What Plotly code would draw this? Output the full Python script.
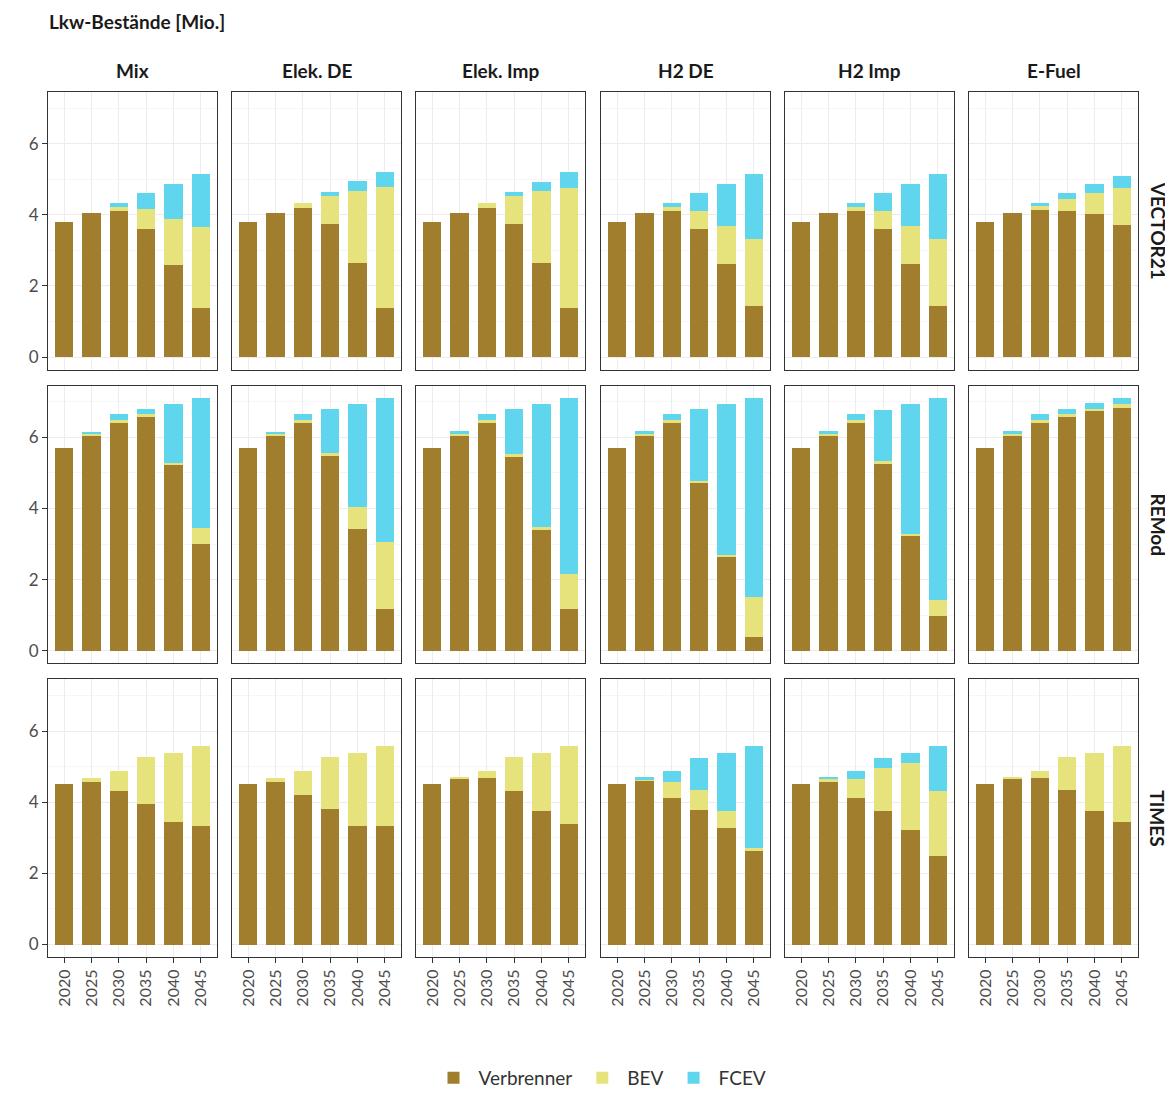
import plotly.graph_objects as go

OFF = 8  # default page body margin
W, H = 1173 - OFF, 1097 - OFF

years = ["2020", "2025", "2030", "2035", "2040", "2045"]
scenarios = ["Mix", "Elek. DE", "Elek. Imp", "H2 DE", "H2 Imp", "E-Fuel"]
models = ["VECTOR21", "REMod", "TIMES"]
series = ["Verbrenner", "BEV", "FCEV"]
colors = {"Verbrenner": "#A07E2D", "BEV": "#E6E27C", "FCEV": "#5FD6EE"}

# values per model: list over scenarios, each list over years (Mio.)
vector21_verbrenner = [
    [3.81, 4.06, 4.10, 3.59, 2.59, 1.39],
    [3.81, 4.06, 4.19, 3.74, 2.64, 1.39],
    [3.81, 4.06, 4.19, 3.74, 2.64, 1.38],
    [3.81, 4.06, 4.10, 3.61, 2.62, 1.43],
    [3.81, 4.06, 4.10, 3.61, 2.62, 1.43],
    [3.81, 4.04, 4.13, 4.11, 4.01, 3.71],
]
vector21_bev = [
    [0, 0, 0.13, 0.56, 1.28, 2.28],
    [0, 0, 0.15, 0.80, 2.03, 3.38],
    [0, 0, 0.15, 0.80, 2.02, 3.38],
    [0, 0, 0.12, 0.49, 1.06, 1.89],
    [0, 0, 0.12, 0.49, 1.06, 1.89],
    [0, 0, 0.14, 0.33, 0.61, 1.05],
]
vector21_fcev = [
    [0, 0, 0.10, 0.47, 1.00, 1.47],
    [0, 0, 0, 0.11, 0.27, 0.42],
    [0, 0, 0, 0.11, 0.27, 0.43],
    [0, 0, 0.10, 0.52, 1.19, 1.82],
    [0, 0, 0.10, 0.51, 1.19, 1.82],
    [0, 0, 0.05, 0.18, 0.24, 0.33],
]
remod_verbrenner = [
    [5.69, 6.06, 6.44, 6.58, 5.21, 2.99],
    [5.69, 6.06, 6.44, 5.49, 3.42, 1.18],
    [5.69, 6.06, 6.44, 5.48, 3.40, 1.18],
    [5.69, 6.06, 6.44, 4.71, 2.65, 0.39],
    [5.69, 6.07, 6.44, 5.26, 3.24, 0.99],
    [5.69, 6.07, 6.44, 6.58, 6.74, 6.82],
]
remod_bev = [
    [0, 0.03, 0.05, 0.07, 0.07, 0.46],
    [0, 0.03, 0.05, 0.06, 0.63, 1.87],
    [0, 0.04, 0.05, 0.05, 0.07, 0.97],
    [0, 0.04, 0.05, 0.07, 0.05, 1.12],
    [0, 0.03, 0.05, 0.07, 0.04, 0.43],
    [0, 0.02, 0.05, 0.08, 0.06, 0.13],
]
remod_fcev = [
    [0, 0.07, 0.16, 0.15, 1.67, 3.66],
    [0, 0.07, 0.16, 1.24, 2.90, 4.06],
    [0, 0.07, 0.16, 1.26, 3.48, 4.96],
    [0, 0.07, 0.16, 2.01, 4.25, 5.60],
    [0, 0.07, 0.16, 1.45, 3.67, 5.69],
    [0, 0.08, 0.16, 0.13, 0.16, 0.16],
]
times_verbrenner = [
    [4.50, 4.56, 4.31, 3.95, 3.44, 3.33],
    [4.50, 4.56, 4.19, 3.80, 3.33, 3.33],
    [4.50, 4.66, 4.68, 4.32, 3.75, 3.38],
    [4.50, 4.60, 4.12, 3.79, 3.28, 2.62],
    [4.50, 4.56, 4.12, 3.75, 3.22, 2.49],
    [4.50, 4.67, 4.67, 4.34, 3.75, 3.44],
]
times_bev = [
    [0, 0.12, 0.57, 1.32, 1.95, 2.25],
    [0, 0.12, 0.69, 1.47, 2.06, 2.25],
    [0, 0.03, 0.20, 0.94, 1.64, 2.19],
    [0, 0.03, 0.44, 0.55, 0.47, 0.08],
    [0, 0.09, 0.52, 1.22, 1.89, 1.82],
    [0, 0.02, 0.21, 0.92, 1.64, 2.14],
]
times_fcev = [
    [0, 0, 0, 0, 0, 0],
    [0, 0, 0, 0, 0, 0],
    [0, 0, 0, 0, 0, 0],
    [0, 0.07, 0.33, 0.91, 1.63, 2.88],
    [0, 0.05, 0.25, 0.28, 0.27, 1.27],
    [0, 0, 0, 0, 0, 0],
]

data = {
    "VECTOR21": {"Verbrenner": vector21_verbrenner, "BEV": vector21_bev, "FCEV": vector21_fcev},
    "REMod": {"Verbrenner": remod_verbrenner, "BEV": remod_bev, "FCEV": remod_fcev},
    "TIMES": {"Verbrenner": times_verbrenner, "BEV": times_bev, "FCEV": times_fcev},
}

FONT = "Lato"
fig = go.Figure()

col_x0 = [48, 232, 416, 601, 785, 969]
pw = 169
row_y0 = [92, 386, 680]
ph = 278


def px(x):
    return (x - OFF) / W


def py(y):
    return 1 - (y - OFF) / H


layout = {}
annotations = []
for r, model in enumerate(models):
    for c, scen in enumerate(scenarios):
        idx = r * 6 + c + 1
        xa = "x" if idx == 1 else f"x{idx}"
        ya = "y" if idx == 1 else f"y{idx}"
        for s in series:
            fig.add_trace(go.Bar(
                x=years, y=data[model][s][c], name=s,
                marker=dict(color=colors[s], line=dict(width=0)),
                width=0.67, xaxis=xa, yaxis=ya,
                legendgroup=s, showlegend=(idx == 1),
            ))
        xkey = "xaxis" if idx == 1 else f"xaxis{idx}"
        ykey = "yaxis" if idx == 1 else f"yaxis{idx}"
        layout[xkey] = dict(
            domain=[px(col_x0[c]), px(col_x0[c] + pw)], anchor=ya, type="category",
            categoryorder="array", categoryarray=years,
            range=[-0.6, 5.6], showgrid=True, gridcolor="#ECEBF0", gridwidth=1,
            showline=True, mirror=True, linecolor="#333333", linewidth=1,
            ticks="outside" if r == 2 else "", ticklen=5, tickcolor="#333333",
            showticklabels=(r == 2), tickangle=-90,
            tickfont=dict(family=FONT, size=16, color="#4D4D4D"),
            zeroline=False,
        )
        layout[ykey] = dict(
            domain=[py(row_y0[r] + ph), py(row_y0[r])], anchor=xa, range=[-0.355, 7.455],
            tickvals=[0, 2, 4, 6], showgrid=True, gridcolor="#ECEBF0", gridwidth=1,
            minor=dict(tickvals=[1, 3, 5, 7], showgrid=True, gridcolor="#F6F5F8", ticks=""),
            showline=True, mirror=True, linecolor="#333333", linewidth=1,
            ticks="outside" if c == 0 else "", ticklen=5, tickcolor="#333333",
            showticklabels=(c == 0),
            tickfont=dict(family=FONT, size=17, color="#4D4D4D"),
            zeroline=False,
        )

for c, scen in enumerate(scenarios):
    annotations.append(dict(
        text=f"<b>{scen}</b>", x=px(col_x0[c] + pw / 2), y=py(71),
        xref="paper", yref="paper", showarrow=False, xanchor="center", yanchor="middle",
        font=dict(family=FONT, size=19, color="#1A1A1A"),
    ))
for r, model in enumerate(models):
    annotations.append(dict(
        text=f"<b>{model}</b>", x=px(1158), y=py(row_y0[r] + ph / 2),
        xref="paper", yref="paper", showarrow=False, xanchor="center", yanchor="middle",
        textangle=90, font=dict(family=FONT, size=19, color="#1A1A1A"),
    ))
annotations.append(dict(
    text="<b>Lkw-Bestände [Mio.]</b>", x=px(47), y=py(22),
    xref="paper", yref="paper", showarrow=False, xanchor="left", yanchor="middle",
    font=dict(family=FONT, size=19, color="#1A1A1A"),
))

fig.update_layout(
    width=W, height=H, autosize=False,
    margin=dict(l=0, r=0, t=0, b=0),
    paper_bgcolor="white", plot_bgcolor="white",
    barmode="stack", bargap=0.33,
    annotations=annotations,
    legend=dict(
        orientation="h", x=px(600), xanchor="center", y=py(1079), yanchor="middle",
        font=dict(family=FONT, size=19, color="#333333"),
        itemwidth=40, traceorder="normal",
    ),
    **layout,
)

fig.write_html("out.html")
